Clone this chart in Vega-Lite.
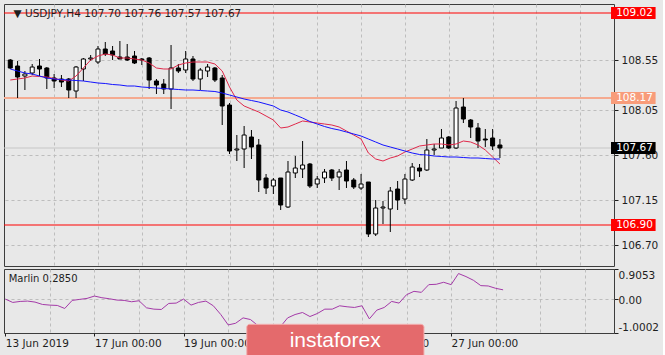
{
  "$schema": "https://vega.github.io/schema/vega-lite/v6.json",
  "background": "#e8e8e8",
  "padding": {"left": 2, "top": 3, "right": 0, "bottom": 0},
  "spacing": 3,
  "bounds": "flush",
  "config": {
    "font": "DejaVu Sans",
    "view": {"stroke": "#3c3c3c", "fill": "#e8e8e8", "strokeWidth": 1},
    "axis": {"labelFont": "DejaVu Sans", "labelFontSize": 10.5, "labelColor": "#1e1e1e", "tickColor": "#1e1e1e", "domain": false, "gridColor": "#bdbdbd", "gridDash": [3, 3], "gridWidth": 1}
  },
  "datasets": {
    "bars": [
      {"i":0,"o":108.55,"h":108.56,"l":108.46,"c":108.47,"f":108.35,"s":108.46,"m":0.01},
      {"i":1,"o":108.49,"h":108.54,"l":108.17,"c":108.38,"f":108.36,"s":108.44,"m":-0.09},
      {"i":2,"o":108.39,"h":108.44,"l":108.25,"c":108.41,"f":108.37,"s":108.42,"m":-0.06},
      {"i":3,"o":108.42,"h":108.51,"l":108.40,"c":108.48,"f":108.39,"s":108.41,"m":-0.05},
      {"i":4,"o":108.49,"h":108.56,"l":108.39,"c":108.46,"f":108.385,"s":108.39,"m":-0.08},
      {"i":5,"o":108.47,"h":108.48,"l":108.26,"c":108.37,"f":108.38,"s":108.37,"m":-0.15},
      {"i":6,"o":108.37,"h":108.41,"l":108.27,"c":108.34,"f":108.365,"s":108.36,"m":-0.17},
      {"i":7,"o":108.36,"h":108.40,"l":108.28,"c":108.33,"f":108.35,"s":108.355,"m":-0.18},
      {"i":8,"o":108.36,"h":108.37,"l":108.17,"c":108.25,"f":108.34,"s":108.35,"m":-0.27},
      {"i":9,"o":108.24,"h":108.49,"l":108.17,"c":108.48,"f":108.39,"s":108.345,"m":-0.03},
      {"i":10,"o":108.46,"h":108.57,"l":108.34,"c":108.56,"f":108.47,"s":108.34,"m":0.00},
      {"i":11,"o":108.56,"h":108.60,"l":108.54,"c":108.57,"f":108.55,"s":108.33,"m":0.03},
      {"i":12,"o":108.53,"h":108.69,"l":108.51,"c":108.66,"f":108.59,"s":108.32,"m":0.10},
      {"i":13,"o":108.66,"h":108.73,"l":108.59,"c":108.61,"f":108.61,"s":108.315,"m":0.05},
      {"i":14,"o":108.64,"h":108.69,"l":108.55,"c":108.60,"f":108.60,"s":108.305,"m":0.02},
      {"i":15,"o":108.58,"h":108.74,"l":108.56,"c":108.56,"f":108.57,"s":108.30,"m":-0.02},
      {"i":16,"o":108.58,"h":108.71,"l":108.54,"c":108.55,"f":108.57,"s":108.29,"m":-0.03},
      {"i":17,"o":108.59,"h":108.64,"l":108.51,"c":108.52,"f":108.56,"s":108.29,"m":-0.07},
      {"i":18,"o":108.56,"h":108.57,"l":108.50,"c":108.55,"f":108.55,"s":108.28,"m":-0.04},
      {"i":19,"o":108.57,"h":108.58,"l":108.26,"c":108.35,"f":108.52,"s":108.275,"m":-0.25},
      {"i":20,"o":108.34,"h":108.36,"l":108.21,"c":108.30,"f":108.47,"s":108.27,"m":-0.29},
      {"i":21,"o":108.31,"h":108.36,"l":108.21,"c":108.26,"f":108.46,"s":108.265,"m":-0.30},
      {"i":22,"o":108.26,"h":108.70,"l":108.06,"c":108.47,"f":108.46,"s":108.26,"m":-0.12},
      {"i":23,"o":108.47,"h":108.51,"l":108.42,"c":108.44,"f":108.50,"s":108.255,"m":-0.11},
      {"i":24,"o":108.45,"h":108.64,"l":108.42,"c":108.56,"f":108.52,"s":108.25,"m":0.01},
      {"i":25,"o":108.56,"h":108.59,"l":108.34,"c":108.36,"f":108.53,"s":108.25,"m":-0.17},
      {"i":26,"o":108.36,"h":108.47,"l":108.25,"c":108.45,"f":108.53,"s":108.245,"m":-0.09},
      {"i":27,"o":108.44,"h":108.51,"l":108.38,"c":108.48,"f":108.53,"s":108.24,"m":-0.05},
      {"i":28,"o":108.47,"h":108.48,"l":108.33,"c":108.35,"f":108.51,"s":108.235,"m":-0.19},
      {"i":29,"o":108.37,"h":108.40,"l":107.90,"c":108.09,"f":108.44,"s":108.22,"m":-0.45},
      {"i":30,"o":108.10,"h":108.12,"l":107.61,"c":107.64,"f":108.28,"s":108.20,"m":-0.76},
      {"i":31,"o":107.65,"h":107.80,"l":107.54,"c":107.66,"f":108.15,"s":108.18,"m":-0.71},
      {"i":32,"o":107.66,"h":107.89,"l":107.47,"c":107.80,"f":108.09,"s":108.16,"m":-0.55},
      {"i":33,"o":107.78,"h":107.85,"l":107.56,"c":107.68,"f":108.06,"s":108.145,"m":-0.60},
      {"i":34,"o":107.70,"h":107.76,"l":107.23,"c":107.35,"f":108.03,"s":108.13,"m":-0.78},
      {"i":35,"o":107.37,"h":107.41,"l":107.21,"c":107.27,"f":107.99,"s":108.11,"m":-0.85},
      {"i":36,"o":107.29,"h":107.37,"l":107.21,"c":107.35,"f":107.95,"s":108.09,"m":-0.80},
      {"i":37,"o":107.37,"h":107.37,"l":107.05,"c":107.10,"f":107.87,"s":108.05,"m":-0.82},
      {"i":38,"o":107.08,"h":107.54,"l":107.07,"c":107.43,"f":107.88,"s":108.03,"m":-0.55},
      {"i":39,"o":107.42,"h":107.59,"l":107.37,"c":107.47,"f":107.91,"s":108.00,"m":-0.45},
      {"i":40,"o":107.46,"h":107.74,"l":107.37,"c":107.50,"f":107.94,"s":107.97,"m":-0.39},
      {"i":41,"o":107.51,"h":107.52,"l":107.27,"c":107.29,"f":107.93,"s":107.935,"m":-0.51},
      {"i":42,"o":107.31,"h":107.39,"l":107.27,"c":107.36,"f":107.92,"s":107.91,"m":-0.42},
      {"i":43,"o":107.37,"h":107.46,"l":107.32,"c":107.43,"f":107.91,"s":107.885,"m":-0.29},
      {"i":44,"o":107.45,"h":107.46,"l":107.34,"c":107.37,"f":107.90,"s":107.865,"m":-0.29},
      {"i":45,"o":107.38,"h":107.46,"l":107.25,"c":107.43,"f":107.88,"s":107.85,"m":-0.19},
      {"i":46,"o":107.45,"h":107.54,"l":107.27,"c":107.34,"f":107.84,"s":107.83,"m":-0.22},
      {"i":47,"o":107.35,"h":107.37,"l":107.26,"c":107.28,"f":107.80,"s":107.81,"m":-0.24},
      {"i":48,"o":107.27,"h":107.41,"l":107.25,"c":107.31,"f":107.76,"s":107.79,"m":-0.19},
      {"i":49,"o":107.33,"h":107.33,"l":106.78,"c":106.81,"f":107.62,"s":107.76,"m":-0.58},
      {"i":50,"o":106.81,"h":107.15,"l":106.79,"c":107.07,"f":107.56,"s":107.73,"m":-0.32},
      {"i":51,"o":107.07,"h":107.14,"l":106.91,"c":107.08,"f":107.54,"s":107.70,"m":-0.24},
      {"i":52,"o":107.06,"h":107.28,"l":106.83,"c":107.24,"f":107.57,"s":107.68,"m":-0.06},
      {"i":53,"o":107.26,"h":107.34,"l":107.05,"c":107.15,"f":107.59,"s":107.66,"m":-0.11},
      {"i":54,"o":107.16,"h":107.41,"l":107.11,"c":107.36,"f":107.63,"s":107.64,"m":0.14},
      {"i":55,"o":107.35,"h":107.52,"l":107.34,"c":107.48,"f":107.66,"s":107.62,"m":0.24},
      {"i":56,"o":107.47,"h":107.51,"l":107.38,"c":107.44,"f":107.69,"s":107.605,"m":0.21},
      {"i":57,"o":107.45,"h":107.76,"l":107.44,"c":107.65,"f":107.70,"s":107.60,"m":0.44},
      {"i":58,"o":107.65,"h":107.71,"l":107.60,"c":107.66,"f":107.71,"s":107.59,"m":0.45},
      {"i":59,"o":107.67,"h":107.86,"l":107.67,"c":107.77,"f":107.71,"s":107.585,"m":0.51},
      {"i":60,"o":107.78,"h":107.79,"l":107.66,"c":107.67,"f":107.70,"s":107.58,"m":0.44},
      {"i":61,"o":107.67,"h":108.14,"l":107.66,"c":108.07,"f":107.71,"s":107.58,"m":0.77},
      {"i":62,"o":108.08,"h":108.17,"l":107.92,"c":107.96,"f":107.74,"s":107.575,"m":0.68},
      {"i":63,"o":107.95,"h":107.96,"l":107.77,"c":107.88,"f":107.73,"s":107.57,"m":0.57},
      {"i":64,"o":107.87,"h":107.92,"l":107.67,"c":107.74,"f":107.70,"s":107.57,"m":0.41},
      {"i":65,"o":107.76,"h":107.86,"l":107.68,"c":107.75,"f":107.65,"s":107.565,"m":0.40},
      {"i":66,"o":107.77,"h":107.86,"l":107.65,"c":107.69,"f":107.58,"s":107.56,"m":0.33},
      {"i":67,"o":107.70,"h":107.76,"l":107.57,"c":107.67,"f":107.51,"s":107.56,"m":0.285}
    ],
    "levels": [
      {"price": 109.02, "kind": "resistance"},
      {"price": 108.17, "kind": "target"},
      {"price": 107.67, "kind": "bid"},
      {"price": 106.90, "kind": "support"}
    ]
  },
  "vconcat": [
    {
      "width": 610,
      "height": 262,
      "layer": [
        {
          "data": {"name": "levels"},
          "transform": [{"filter": "datum.kind != 'target'"}],
          "mark": {"type": "rule", "strokeWidth": 1},
          "encoding": {
            "y": {"field": "price", "type": "quantitative", "title": null, "scale": {"domain": [106.49, 109.11], "nice": false, "zero": false},
              "axis": {"orient": "right", "values": [108.55, 108.05, 107.60, 107.15, 106.70], "tickCount": 10, "format": ".2f", "tickSize": 4, "labelPadding": 3, "labelAlign": "left", "labelOverlap": false, "labelFlush": false, "grid": true, "title": null}},
            "color": {"condition": {"test": "datum.kind == 'bid'", "value": "#c6c6c6"}, "value": "#ff0000"}
          }
        },
        {
          "data": {"name": "levels"},
          "transform": [{"filter": "datum.kind == 'target'"}],
          "mark": {"type": "rule", "strokeWidth": 2, "color": "#f5aa90"},
          "encoding": {"y": {"field": "price", "type": "quantitative", "title": null}}
        },
        {
          "data": {"name": "bars"},
          "mark": {"type": "rule", "color": "#000000", "strokeWidth": 1},
          "encoding": {
            "x": {"field": "i", "type": "quantitative", "title": null, "scale": {"domain": [-0.175, 81.925], "nice": false, "zero": false},
              "axis": {"values": [6,12,18,24,30,36,42,48,54,60,66,72,78], "tickCount": 20, "labels": false, "ticks": false, "grid": true, "title": null}},
            "y": {"field": "l", "type": "quantitative", "title": null},
            "y2": {"field": "h"}
          }
        },
        {
          "data": {"name": "bars"},
          "mark": {"type": "bar", "width": 4, "stroke": "#000000", "strokeWidth": 1},
          "encoding": {
            "x": {"field": "i", "type": "quantitative", "title": null},
            "y": {"field": "o", "type": "quantitative", "title": null},
            "y2": {"field": "c"},
            "fill": {"condition": {"test": "datum.c >= datum.o", "value": "#ffffff"}, "value": "#000000"}
          }
        },
        {
          "data": {"name": "bars"},
          "mark": {"type": "line", "color": "#e0284a", "strokeWidth": 1},
          "encoding": {
            "x": {"field": "i", "type": "quantitative", "title": null},
            "y": {"field": "f", "type": "quantitative", "title": null}
          }
        },
        {
          "data": {"name": "bars"},
          "mark": {"type": "line", "color": "#1414ff", "strokeWidth": 1},
          "encoding": {
            "x": {"field": "i", "type": "quantitative", "title": null},
            "y": {"field": "s", "type": "quantitative", "title": null}
          }
        },
        {
          "data": {"name": "levels"},
          "mark": {"type": "rule", "strokeWidth": 12, "strokeCap": "butt", "clip": false},
          "encoding": {
            "x": {"datum": 82.2},
            "x2": {"datum": 88.3},
            "y": {"field": "price", "type": "quantitative", "title": null},
            "color": {"condition": [{"test": "datum.kind == 'bid'", "value": "#000000"}, {"test": "datum.kind == 'target'", "value": "#f89c7a"}], "value": "#ff0000"}
          }
        },
        {
          "data": {"name": "levels"},
          "mark": {"type": "text", "align": "left", "baseline": "middle", "color": "#ffffff", "fontSize": 10.5, "font": "DejaVu Sans", "clip": false},
          "encoding": {
            "x": {"datum": 82.9},
            "y": {"field": "price", "type": "quantitative", "title": null},
            "text": {"field": "price", "type": "quantitative", "format": ".2f"}
          }
        },
        {
          "data": {"values": [{"caption": "▼ USDJPY,H4  107.70 107.76 107.57 107.67"}]},
          "mark": {"type": "text", "align": "left", "baseline": "middle", "color": "#1e1e1e", "fontSize": 10.5, "font": "DejaVu Sans"},
          "encoding": {
            "x": {"datum": 0.45},
            "y": {"datum": 109.015},
            "text": {"field": "caption", "type": "nominal"}
          }
        }
      ]
    },
    {
      "width": 610,
      "height": 64,
      "layer": [
        {
          "data": {"name": "bars"},
          "mark": {"type": "line", "color": "#a43aa8", "strokeWidth": 1},
          "encoding": {
            "x": {"field": "i", "type": "quantitative", "title": null, "scale": {"domain": [-0.175, 81.925], "nice": false, "zero": false},
              "axis": {"orient": "bottom", "values": [0,6,12,18,24,30,36,42,48,54,60,66,72,78], "tickCount": 20, "grid": true,
                "gridColor": {"condition": {"test": "datum.value == 0", "value": "transparent"}, "value": "#bdbdbd"},
                "tickSize": 3,
                "tickColor": {"condition": {"test": "datum.value % 12 == 0 && datum.value <= 60", "value": "#1e1e1e"}, "value": "transparent"},
                "labelExpr": "datum.value % 12 == 0 && datum.value <= 60 ? ['13 Jun 2019','17 Jun 00:00','19 Jun 00:00','21 Jun 00:00','25 Jun 00:00','27 Jun 00:00'][datum.value / 12] : ''",
                "labelAlign": "left", "labelBaseline": "top", "labelPadding": 2, "labelOverlap": false, "labelFlush": false, "labelBound": false, "title": null}},
            "y": {"field": "m", "type": "quantitative", "title": null, "scale": {"domain": [-1.0002, 0.9053], "nice": false, "zero": false},
              "axis": {"orient": "right", "values": [0.9053, 0, -1.0002], "tickCount": 5, "grid": true,
                "gridColor": {"condition": {"test": "abs(datum.value) < 0.5", "value": "#bdbdbd"}, "value": "transparent"},
                "tickSize": 4, "labelPadding": 0, "labelAlign": "left", "labelOverlap": false, "labelFlush": false,
                "labelExpr": "datum.value > 0.5 ? '0.9053' : (datum.value < -0.5 ? '-1.0002' : '0.00')",
                "labelBaseline": {"condition": {"test": "datum.value > 0.5", "value": "top"}, "value": "middle"},
                "labelOffset": {"condition": {"test": "datum.value < -0.5", "value": -6}, "value": 1},
                "title": null}}
          }
        },
        {
          "data": {"values": [{"caption": "Marlin 0.2850"}]},
          "mark": {"type": "text", "align": "left", "baseline": "middle", "color": "#1e1e1e", "fontSize": 10, "font": "DejaVu Sans"},
          "encoding": {
            "x": {"datum": 0.45},
            "y": {"datum": 0.6165},
            "text": {"field": "caption", "type": "nominal"}
          }
        },
        {
          "data": {"values": [{"brand": "instaforex"}]},
          "mark": {"type": "rect", "fill": "#e46a6c", "stroke": "#f3b0b0", "strokeWidth": 1, "cornerRadius": 3, "clip": false},
          "encoding": {
            "x": {"datum": 32.5},
            "x2": {"datum": 56.35},
            "y": {"datum": -0.741},
            "y2": {"datum": -1.85}
          }
        },
        {
          "data": {"values": [{"brand": "instaforex"}]},
          "mark": {"type": "text", "align": "center", "baseline": "middle", "color": "#ffffff", "fontSize": 21, "font": "Liberation Sans Narrow, Liberation Sans", "clip": false},
          "encoding": {
            "x": {"datum": 44.4},
            "y": {"datum": -1.225},
            "text": {"field": "brand", "type": "nominal"}
          }
        }
      ]
    }
  ]
}
